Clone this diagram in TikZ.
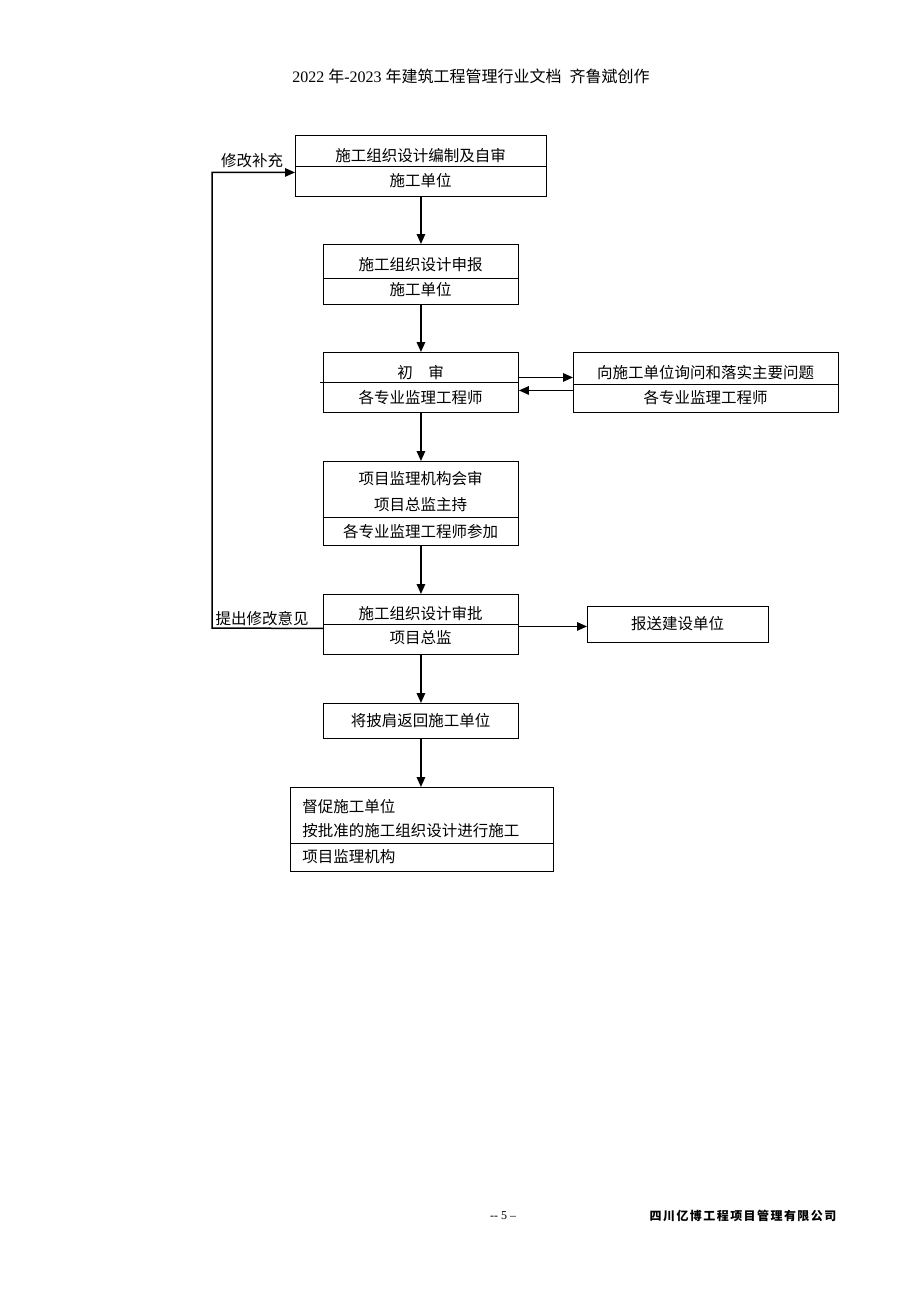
\documentclass[tikz,border=0pt]{standalone}
\usepackage{fontspec}
\setmainfont{Liberation Serif}
\newfontfamily\cjk{Noto Sans CJK SC}
\newfontfamily\cjkwide[LetterSpace=12]{Noto Sans CJK SC}
\usetikzlibrary{arrows.meta}

\begin{document}
\begin{tikzpicture}[x=1pt,y=-1pt,line width=0.9pt,>={Triangle[length=10pt,width=8.5pt]}]
    \tikzstyle{box}=[draw,rectangle,anchor=north west,inner sep=0pt]
    \tikzstyle{txt}=[font=\cjk\fontsize{15.5}{18}\selectfont,inner sep=0pt]
    \tikzstyle{flow}=[->,line width=1.5pt]
    \useasboundingbox (0,0) rectangle (920,1302);

    % Page header
    \node[font=\fontsize{16}{18}\selectfont,inner sep=0pt] (head) at (471,76)
        {2022 {\cjk 年}-2023 {\cjk 年建筑工程管理行业文档}\ \ {\cjk 齐鲁斌创作}};

    % Draw the boxes
    \node[box,minimum width=251pt,minimum height=61pt] (bz) at (295,135) {};
    \node[box,minimum width=195pt,minimum height=60pt] (sb) at (323,244) {};
    \node[box,minimum width=195pt,minimum height=60pt] (cs) at (323,352) {};
    \node[box,minimum width=265pt,minimum height=60pt] (xw) at (573,352) {};
    \node[box,minimum width=195pt,minimum height=84pt] (hs) at (323,461) {};
    \node[box,minimum width=195pt,minimum height=60pt] (sp) at (323,594) {};
    \node[box,minimum width=181pt,minimum height=36pt] (bs) at (587,606) {};
    \node[box,minimum width=195pt,minimum height=35pt] (fh) at (323,703) {};
    \node[box,minimum width=263pt,minimum height=84pt] (dc) at (290,787) {};

    % Dividers
    \coordinate (d-bz) at (0,166);
    \coordinate (d-sb) at (0,278);
    \coordinate (d-cs) at (0,382);
    \coordinate (d-xw) at (0,384);
    \coordinate (d-hs) at (0,517);
    \coordinate (d-sp) at (0,624);
    \coordinate (d-dc) at (0,843);
    \foreach \name in {bz,sb,xw,hs,sp,dc}
        \draw (\name.west |- d-\name) -- (\name.east |- d-\name);
    \draw ([xshift=-3pt]cs.west |- d-cs) -- (cs.east |- d-cs);

    % Box texts
    \node[txt] (bz-1) at (420.5,156) {施工组织设计编制及自审};
    \node[txt] (bz-2) at (420.5,181) {施工单位};
    \node[txt] (sb-1) at (420.5,265) {施工组织设计申报};
    \node[txt] (sb-2) at (420.5,290) {施工单位};
    \node[txt] (cs-1) at (420.5,373) {初\quad 审};
    \node[txt] (cs-2) at (420.5,398) {各专业监理工程师};
    \node[txt] (xw-1) at (705.5,373) {向施工单位询问和落实主要问题};
    \node[txt] (xw-2) at (705.5,398) {各专业监理工程师};
    \node[txt] (hs-1) at (420.5,479) {项目监理机构会审};
    \node[txt] (hs-2) at (420.5,505) {项目总监主持};
    \node[txt] (hs-3) at (420.5,532) {各专业监理工程师参加};
    \node[txt] (sp-1) at (420.5,614) {施工组织设计审批};
    \node[txt] (sp-2) at (420.5,638) {项目总监};
    \node[txt] (bs-1) at (677.5,624) {报送建设单位};
    \node[txt] (fh-1) at (420.5,721) {将披肩返回施工单位};
    \node[txt,anchor=west] (dc-1) at (302,807) {督促施工单位};
    \node[txt,anchor=west] (dc-2) at (302,831) {按批准的施工组织设计进行施工};
    \node[txt,anchor=west] (dc-3) at (302,857) {项目监理机构};

    % Main flow
    \draw[flow] (bz.south) -- (sb.north);
    \draw[flow] (sb.south) -- (cs.north);
    \draw[flow] (cs.south) -- (hs.north);
    \draw[flow] (hs.south) -- (sp.north);
    \draw[flow] (sp.south) -- (fh.north);
    \draw[flow] (fh.south) -- (fh.south |- dc.north);

    % Side branches
    \draw[flow] ([yshift=5pt]cs.east) -- ([yshift=5pt]xw.west);
    \draw[flow] ([yshift=-8pt]xw.west) -- ([yshift=-8pt]cs.east);
    \draw[flow] ([yshift=-2pt]sp.east) -- ([yshift=-2pt]bs.west);

    % Feedback loop
    \coordinate (lp) at (212,628);
    \draw[flow] ([yshift=-4pt]sp.west) -- (lp) |- ([yshift=-6.5pt]bz.west);
    \node[txt] (lp-1) at (262,619) {提出修改意见};
    \node[txt] (lp-2) at (252,161) {修改补充};

    % Page footer
    \node[font=\fontsize{12}{14}\selectfont,inner sep=0pt] (foot) at (503,1216) {-{}- 5 --};
    \node[font=\cjkwide\bfseries\fontsize{12}{14}\selectfont,inner sep=0pt] (corp) at (743,1216)
        {四川亿博工程项目管理有限公司};
\end{tikzpicture}
\end{document}
